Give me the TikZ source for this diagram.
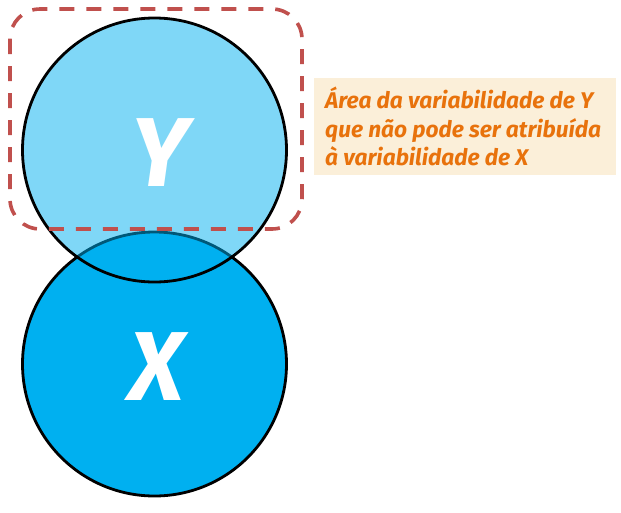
\documentclass[tikz,border=0pt]{standalone}
\usepackage{fontspec}
\setmainfont{Fira Sans}
\begin{document}
\begin{tikzpicture}[x=1pt,y=-1pt]
\definecolor{xblue}{HTML}{00B0F0}
\definecolor{dashred}{HTML}{C0504D}
\definecolor{parch}{HTML}{FBEFD9}
\definecolor{txtorange}{HTML}{E8720C}
\tikzset{
  setcircle/.style={circle, draw=black, line width=2.8pt, minimum size=264pt, inner sep=0pt},
  bigletter/.style={text=white, font=\fontsize{98}{98}\selectfont\bfseries\itshape},
  notebox/.style={fill=parch, minimum width=302pt, minimum height=97pt, inner sep=0pt, anchor=north west},
  notetext/.style={text=txtorange, align=left, inner sep=0pt, anchor=west,
    font=\fontsize{22.7}{28.5}\selectfont\bfseries\itshape},
  regionbox/.style={draw=dashred, line width=3.6pt, dash pattern=on 15pt off 12pt, rounded corners=30pt}
}
\useasboundingbox (0,0) rectangle (621,512);
\node[setcircle, fill=xblue] (X) at (154.5,364) {};
\node[setcircle, fill=xblue, fill opacity=0.5] (Y) at (154.5,150) {};
\node[bigletter] (Xl) at (156,367) {X};
\node[bigletter] (Yl) at (160,153) {Y};
\draw[regionbox] (10,9) rectangle (302,229);
\node[notebox] (note) at (314,78) {};
\node[notetext] (notetxt) at ([xshift=11pt]note.west) {Área da variabilidade de Y\\que não pode ser atribuída\\à variabilidade de X};
\end{tikzpicture}
\end{document}
